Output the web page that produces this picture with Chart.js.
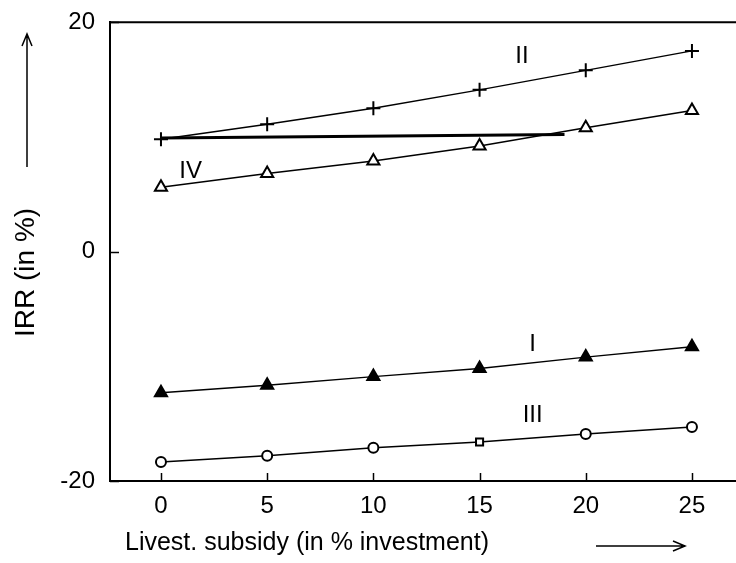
<!DOCTYPE html>
<html>
<head>
<meta charset="utf-8">
<script src="https://cdn.jsdelivr.net/npm/chart.js@4.4.0/dist/chart.umd.min.js"></script>
<style>
  html, body { margin: 0; padding: 0; background: #fff; }
  #wrap { width: 736px; height: 563px; }
</style>
</head>
<body>
<div id="wrap"><canvas id="irr-chart" width="736" height="563"></canvas></div>
<script>
// Livestock subsidy (% of investment) vs IRR (%)
const subsidy = [0, 5, 10, 15, 20, 25];
const irrI   = [-12.3, -11.65, -10.9, -10.2, -9.2, -8.3];
const irrII  = [9.8, 11.1, 12.5, 14.1, 15.8, 17.5];
const irrIII = [-18.35, -17.8, -17.1, -16.6, -15.9, -15.3];
const irrIV  = [5.6, 6.8, 7.9, 9.2, 10.8, 12.3];
const baseX  = [0, 19];
const baseY  = [9.9, 10.2];

const xTicks = [0, 5, 10, 15, 20, 25];
const yTicks = [-20, 0, 20];

const curveLabels = [
    { text: 'II',  x: 17.0, y: 17.0 },
    { text: 'IV',  x: 1.4,  y: 7.0 },
    { text: 'I',   x: 17.5, y: -8.1 },
    { text: 'III', x: 17.5, y: -14.3 },
];

const FONT = '"Liberation Sans", Arial, sans-serif';

const pts = (xs, ys) => xs.map((x, i) => ({ x, y: ys[i] }));

function series(label, ys, style, filled, radius) {
    return {
        label,
        data: pts(subsidy, ys),
        showLine: true,
        borderColor: '#000',
        borderWidth: 1.5,
        pointStyle: style,
        pointRadius: radius,
        pointBorderColor: '#000',
        pointBorderWidth: 2,
        pointBackgroundColor: filled ? '#000' : '#fff',
    };
}

// frame top line, inward ticks, curve labels, axis titles with arrows
const decor = {
    id: 'decor',
    afterDatasetsDraw(chart) {
        const { ctx, chartArea: a, scales } = chart;
        const xs = scales.x, ys = scales.y;
        ctx.save();
        ctx.strokeStyle = '#000';
        ctx.fillStyle = '#000';

        ctx.lineWidth = 2;
        ctx.beginPath();
        ctx.moveTo(a.left, a.top);
        ctx.lineTo(chart.width, a.top);
        ctx.moveTo(a.right, a.bottom);
        ctx.lineTo(chart.width, a.bottom);
        ctx.stroke();

        ctx.lineWidth = 1.5;
        xTicks.forEach(v => {
            const px = Math.round(xs.getPixelForValue(v)) + 0.5;
            ctx.beginPath();
            ctx.moveTo(px, a.bottom);
            ctx.lineTo(px, a.bottom - 8);
            ctx.stroke();
        });
        yTicks.forEach(v => {
            const py = Math.round(ys.getPixelForValue(v)) + 0.5;
            ctx.beginPath();
            ctx.moveTo(a.left, py);
            ctx.lineTo(a.left + 9, py);
            ctx.stroke();
        });

        ctx.font = '24px ' + FONT;
        ctx.textAlign = 'center';
        ctx.textBaseline = 'middle';
        curveLabels.forEach(l => {
            ctx.fillText(l.text, xs.getPixelForValue(l.x), ys.getPixelForValue(l.y));
        });

        // x title + arrow
        ctx.font = '25px ' + FONT;
        ctx.textAlign = 'left';
        ctx.fillText('Livest. subsidy (in % investment)', 125, 543);
        ctx.lineWidth = 1.5;
        ctx.beginPath();
        ctx.moveTo(596, 546);
        ctx.lineTo(685, 546);
        ctx.moveTo(673, 541);
        ctx.lineTo(685, 546);
        ctx.lineTo(673, 551);
        ctx.stroke();

        // y title + arrow
        ctx.save();
        ctx.translate(26, 337);
        ctx.rotate(-Math.PI / 2);
        ctx.font = '28px ' + FONT;
        ctx.textAlign = 'left';
        ctx.fillText('IRR (in %)', 0, 0);
        ctx.restore();
        ctx.beginPath();
        ctx.moveTo(27, 167);
        ctx.lineTo(27, 34);
        ctx.moveTo(22, 46);
        ctx.lineTo(27, 34);
        ctx.lineTo(32, 46);
        ctx.stroke();

        ctx.restore();
    }
};

new Chart(document.getElementById('irr-chart'), {
    type: 'scatter',
    data: {
        datasets: [
            {
                label: 'base',
                data: pts(baseX, baseY),
                showLine: true,
                borderColor: '#000',
                borderWidth: 3,
                pointRadius: 0,
            },
            series('II', irrII, 'cross', false, 7),
            series('IV', irrIV, 'triangle', false, 7),
            series('I', irrI, 'triangle', true, 7),
            series('III', irrIII, ['circle', 'circle', 'circle', 'rect', 'circle', 'circle'], false, 5),
        ],
    },
    options: {
        responsive: false,
        animation: false,
        clip: false,
        layout: { padding: { top: 21, right: 0, bottom: 0, left: 0 } },
        scales: {
            x: {
                type: 'linear',
                min: -2.4,
                max: 26.65,
                afterFit: s => { s.height = 82; },
                grid: { display: false, drawTicks: false },
                border: { display: true, color: '#000', width: 2 },
                ticks: {
                    stepSize: 5,
                    includeBounds: false,
                    padding: 11,
                    color: '#000',
                    font: { family: FONT, size: 24 },
                    maxRotation: 0,
                },
            },
            y: {
                type: 'linear',
                min: -20,
                max: 20,
                afterFit: s => { s.width = 110; },
                grid: { display: false, drawTicks: false },
                border: { display: true, color: '#000', width: 2 },
                ticks: {
                    stepSize: 20,
                    includeBounds: false,
                    padding: 15,
                    color: '#000',
                    font: { family: FONT, size: 24, lineHeight: 0.6 },
                },
            },
        },
        plugins: {
            legend: { display: false },
            tooltip: { enabled: false },
        },
    },
    plugins: [decor],
});
</script>
</body>
</html>
